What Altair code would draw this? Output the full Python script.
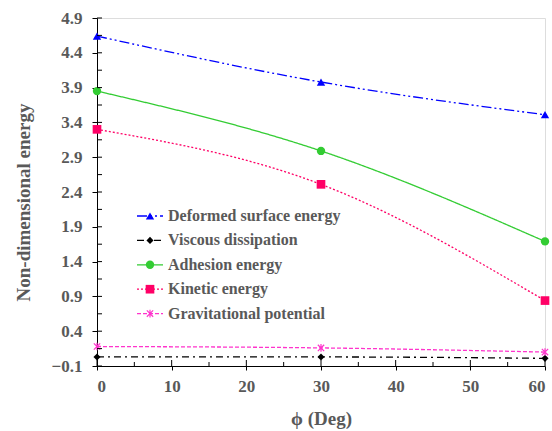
import altair as alt
import pandas as pd

phi = [0, 30, 60]
deformed = [4.64, 3.98, 3.51]
viscous = [0.03, 0.03, 0.01]
adhesion = [3.85, 2.99, 1.69]
kinetic = [3.30, 2.51, 0.84]
gravitational = [0.18, 0.16, 0.10]
series_names = ["Deformed surface energy", "Viscous dissipation", "Adhesion energy",
                "Kinetic energy", "Gravitational potential"]
y_ticks = [-0.1, 0.4, 0.9, 1.4, 1.9, 2.4, 2.9, 3.4, 3.9, 4.4, 4.9]
y_minor = [0.15, 0.65, 1.15, 1.65, 2.15, 2.65, 3.15, 3.65, 4.15, 4.65]
x_ticks = [0, 10, 20, 30, 40, 50, 60]
x_minor = [5, 15, 25, 35, 45, 55]

values = [deformed, viscous, adhesion, kinetic, gravitational]
rows = []
for name, vals in zip(series_names, values):
    for p, v in zip(phi, vals):
        rows.append({"series": name, "phi": p, "value": v})
df = pd.DataFrame(rows)

ASTER = "M-1,-1L1,1M-1,1L1,-1M0,-1.2L0,1.2"
styles = {
    "Deformed surface energy": dict(color="#0000FF", dash=[10, 3, 2, 3, 2, 3], shape="triangle-up", filled=True, size=70),
    "Viscous dissipation": dict(color="#000000", dash=[7, 4, 2, 4], shape="diamond", filled=True, size=50),
    "Adhesion energy": dict(color="#33CC33", dash=[1, 0], shape="circle", filled=True, size=70),
    "Kinetic energy": dict(color="#FF0066", dash=[2, 2], shape="square", filled=True, size=75),
    "Gravitational potential": dict(color="#FF33CC", dash=[4, 2], shape=ASTER, filled=False, size=40),
}

FONT = "Liberation Serif"
GRAY = "#595959"
W, H = 448, 348

xs = alt.Scale(domain=[0, 60], nice=False, zero=False)
ys = alt.Scale(domain=[-0.1, 4.9], nice=False, zero=False)

x_axis = alt.Axis(values=x_ticks, title="ϕ (Deg)", grid=False, tickSize=4, labelPadding=8,
                  labelFont=FONT, labelFontSize=17, labelFontWeight="bold", labelColor=GRAY,
                  titleFont=FONT, titleFontSize=19, titleFontWeight="bold", titleColor=GRAY,
                  titlePadding=15, domainColor="#000", tickColor="#000")
y_axis = alt.Axis(values=y_ticks, format=".1f", title="Non-dimensional energy", grid=False,
                  tickSize=5, labelPadding=10, labelFont=FONT, labelFontSize=17,
                  labelFontWeight="bold", labelColor=GRAY, titleFont=FONT, titleFontSize=19,
                  titleFontWeight="bold", titleColor=GRAY, titlePadding=18, titleY=184,
                  domainColor="#000", tickColor="#000")


def X(field):
    return alt.X(field, scale=xs, axis=x_axis)


def Y(field):
    return alt.Y(field, scale=ys, axis=y_axis)


layers = []
for name in series_names:
    st = styles[name]
    base = alt.Chart(df).transform_filter(alt.datum.series == name)
    line = base.mark_line(color=st["color"], strokeDash=st["dash"], strokeWidth=1.3,
                          interpolate="monotone").encode(x=X("phi:Q"), y=Y("value:Q"))
    pts = base.mark_point(shape=st["shape"], filled=st["filled"], size=st["size"],
                          color=st["color"], opacity=1, strokeWidth=1.2).encode(
        x=X("phi:Q"), y=Y("value:Q"))
    layers += [line, pts]

# inner tick marks
layers.append(alt.Chart(pd.DataFrame({"v": y_ticks})).mark_rule(color="#000").encode(
    y=Y("v:Q"), x=alt.value(0), x2=alt.value(5)))
layers.append(alt.Chart(pd.DataFrame({"v": y_minor})).mark_rule(color="#000").encode(
    y=Y("v:Q"), x=alt.value(0), x2=alt.value(5)))
layers.append(alt.Chart(pd.DataFrame({"v": x_ticks})).mark_rule(color="#000").encode(
    x=X("v:Q"), y=alt.value(H), y2=alt.value(H - 6)))
layers.append(alt.Chart(pd.DataFrame({"v": x_minor})).mark_rule(color="#000").encode(
    x=X("v:Q"), y=alt.value(H), y2=alt.value(H - 4)))

# legend
leg_x0, leg_x1, leg_m, leg_t = 40, 66, 53, 71
leg_y0, leg_dy = 198, 24.4
for i, name in enumerate(series_names):
    st = styles[name]
    yc = leg_y0 + i * leg_dy
    ld = pd.DataFrame({"label": [name]})
    layers.append(alt.Chart(ld).mark_rule(color=st["color"], strokeDash=st["dash"], strokeWidth=1.3).encode(
        x=alt.value(leg_x0), x2=alt.value(leg_x1), y=alt.value(yc)))
    layers.append(alt.Chart(ld).mark_point(shape=st["shape"], filled=st["filled"], size=st["size"],
                                           color=st["color"], opacity=1, strokeWidth=1.2).encode(
        x=alt.value(leg_m), y=alt.value(yc)))
    layers.append(alt.Chart(ld).mark_text(align="left", baseline="middle", font=FONT, fontSize=16,
                                          fontWeight="bold", color=GRAY).encode(
        x=alt.value(leg_t), y=alt.value(yc), text="label:N"))

chart = alt.layer(*layers).properties(
    width=W, height=H, autosize="none",
    padding={"left": 97, "top": 18, "right": 7, "bottom": 65},
).configure_view(stroke="#333", strokeWidth=1).configure(background="white")

chart.save("out.html", embed_options={"renderer": "svg", "actions": False})
